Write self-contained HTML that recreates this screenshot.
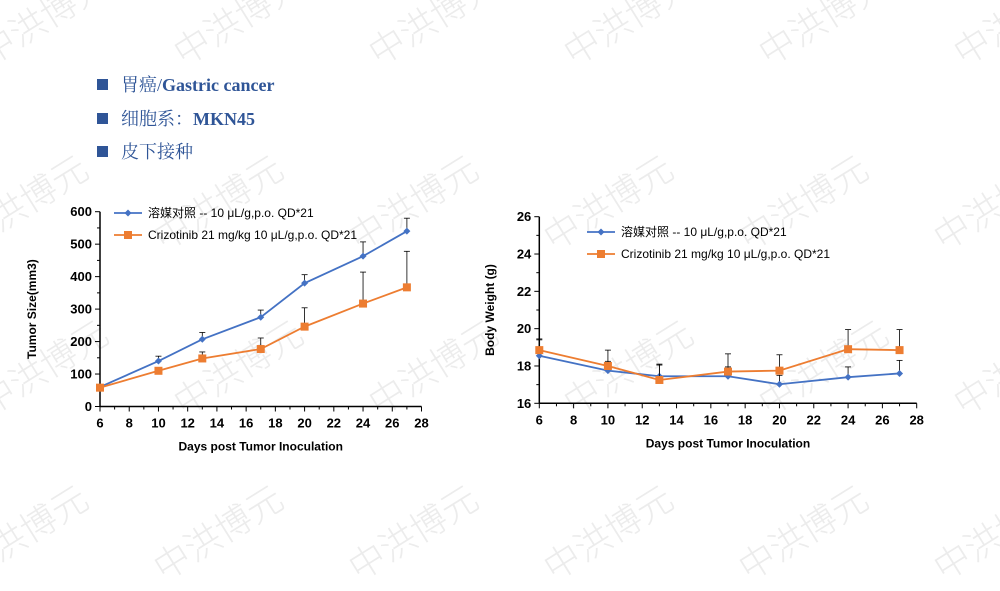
<!DOCTYPE html>
<html><head><meta charset="utf-8"><style>
body{margin:0;width:1000px;height:562px;background:#fff;overflow:hidden;position:relative;font-family:"Liberation Sans","Noto Sans CJK SC",sans-serif}
.wm{position:absolute;font-size:36px;color:#ececec;transform:rotate(-32deg);white-space:nowrap;font-family:"Noto Sans CJK SC",sans-serif;font-weight:300}
.h{position:absolute;left:97px;font-size:18px;color:#2F5597;font-family:"Liberation Serif","Noto Serif CJK SC",serif}
.h b{font-weight:bold}
.h i{display:inline-block;width:11px;height:11px;background:#2F5597;margin-right:13px;vertical-align:1px}
svg{position:absolute;left:0;top:0}
</style></head><body>
<div id="wms"></div>
<div class="h" style="top:71px"><i></i>胃癌/<b>Gastric cancer</b></div>
<div class="h" style="top:105px"><i></i>细胞系：<b>MKN45</b></div>
<div class="h" style="top:138px"><i></i>皮下接种</div>
<svg id="s" width="1000" height="562" font-family="Liberation Sans, Noto Sans CJK SC, sans-serif"></svg>
<script>
var wm=document.getElementById('wms');
var rows=[[-20,0],[165,-20],[330,0],[495,-20]];
rows.forEach(function(r,ri){for(var k=0;k<6;k++){var d=document.createElement('div');d.className='wm';d.textContent='中洪博元';d.style.left=(r[1]-30+k*195)+'px';d.style.top=(r[0]+10)+'px';wm.appendChild(d);}});
var s='';
function chart(o){
 var X=function(d){return o.x0+(d-6)*(o.x1-o.x0)/22},Y=function(v){return o.y0+(v-o.vmin)*(o.y1-o.y0)/(o.vmax-o.vmin)};
 s+='<line x1="'+o.x0+'" y1="'+o.y1+'" x2="'+o.x0+'" y2="'+o.y0+'" stroke="#000" stroke-width="1.5"/>';
 s+='<line x1="'+o.x0+'" y1="'+o.y0+'" x2="'+o.x1+'" y2="'+o.y0+'" stroke="#000" stroke-width="1.5"/>';
 for(var d=6;d<=28;d++){var x=X(d);s+='<line x1="'+x+'" y1="'+o.y0+'" x2="'+x+'" y2="'+(o.y0+(d%2==0?5:3))+'" stroke="#000"/>';if(d%2==0)s+='<text x="'+x+'" y="'+(o.y0+21)+'" font-size="13" font-weight="bold" text-anchor="middle">'+d+'</text>';}
 for(var i=0;i<=o.n*2;i++){var v=o.vmin+i*o.step/2,y=Y(v);s+='<line x1="'+(o.x0-(i%2==0?5:3))+'" y1="'+y+'" x2="'+o.x0+'" y2="'+y+'" stroke="#000"/>';if(i%2==0)s+='<text x="'+(o.x0-8)+'" y="'+(y+4.5)+'" font-size="13" font-weight="bold" text-anchor="end">'+v+'</text>';}
 s+='<text x="'+((o.x0+o.x1)/2)+'" y="'+(o.y0+44)+'" font-size="12" font-weight="bold" text-anchor="middle">Days post Tumor Inoculation</text>';
 s+='<text transform="translate('+o.yl+','+((o.y0+o.y1)/2)+') rotate(-90)" font-size="12" font-weight="bold" text-anchor="middle">'+o.ylab+'</text>';
 var days=[6,10,13,17,20,24,27];
 [[o.b,'#4472C4',0],[o.r,'#ED7D31',1]].forEach(function(ser){var d=ser[0],c=ser[1],pts=[];
  d.forEach(function(p,i){var x=X(days[i]),y=Y(p[0]);pts.push(x+','+y);if(p[1]){var ye=Y(p[1]);s+='<line x1="'+x+'" y1="'+y+'" x2="'+x+'" y2="'+ye+'" stroke="#000" stroke-width="0.8"/><line x1="'+(x-3)+'" y1="'+ye+'" x2="'+(x+3)+'" y2="'+ye+'" stroke="#000" stroke-width="0.8"/>';}});
  s+='<polyline points="'+pts.join(' ')+'" fill="none" stroke="'+c+'" stroke-width="1.8"/>';
  d.forEach(function(p,i){var x=X(days[i]),y=Y(p[0]);s+=ser[2]?'<rect x="'+(x-4)+'" y="'+(y-4)+'" width="8" height="8" fill="'+c+'"/>':'<path d="M'+x+' '+(y-3.5)+'L'+(x+3.5)+' '+y+'L'+x+' '+(y+3.5)+'L'+(x-3.5)+' '+y+'Z" fill="'+c+'"/>';});
 });
 var lx=o.lx,ly=o.ly;
 s+='<line x1="'+lx+'" y1="'+ly+'" x2="'+(lx+28)+'" y2="'+ly+'" stroke="#4472C4" stroke-width="1.8"/><path d="M'+(lx+14)+' '+(ly-3.5)+'l3.5 3.5l-3.5 3.5l-3.5-3.5z" fill="#4472C4"/>';
 s+='<text x="'+(lx+34)+'" y="'+(ly+4)+'" font-size="12">溶媒对照 -- 10 μL/g,p.o. QD*21</text>';
 ly+=22;
 s+='<line x1="'+lx+'" y1="'+ly+'" x2="'+(lx+28)+'" y2="'+ly+'" stroke="#ED7D31" stroke-width="1.8"/><rect x="'+(lx+10)+'" y="'+(ly-4)+'" width="8" height="8" fill="#ED7D31"/>';
 s+='<text x="'+(lx+34)+'" y="'+(ly+4)+'" font-size="12">Crizotinib 21 mg/kg 10 μL/g,p.o. QD*21</text>';
}
chart({x0:100,x1:421.5,y0:406.5,y1:211.7,vmin:0,vmax:600,step:100,n:6,yl:36,ylab:'Tumor Size(mm3)',lx:114,ly:213,
 b:[[60],[140,155],[207,228],[275,297],[380,406],[463,507],[540,580]],
 r:[[58],[110],[148,168],[177,211],[246,304],[317,414],[367,478]]});
chart({x0:539.3,x1:916.7,y0:403.3,y1:216.7,vmin:16,vmax:26,step:2,n:5,yl:494,ylab:'Body Weight (g)',lx:587,ly:232,
 b:[[18.55,19.45],[17.75,18.25],[17.45,18.05],[17.45,17.95],[17.02,17.5],[17.4,17.95],[17.6,18.3]],
 r:[[18.85,19.4],[18.0,18.85],[17.25,18.1],[17.7,18.65],[17.75,18.6],[18.9,19.95],[18.85,19.95]]});
document.getElementById('s').innerHTML=s;
</script>
</body></html>
